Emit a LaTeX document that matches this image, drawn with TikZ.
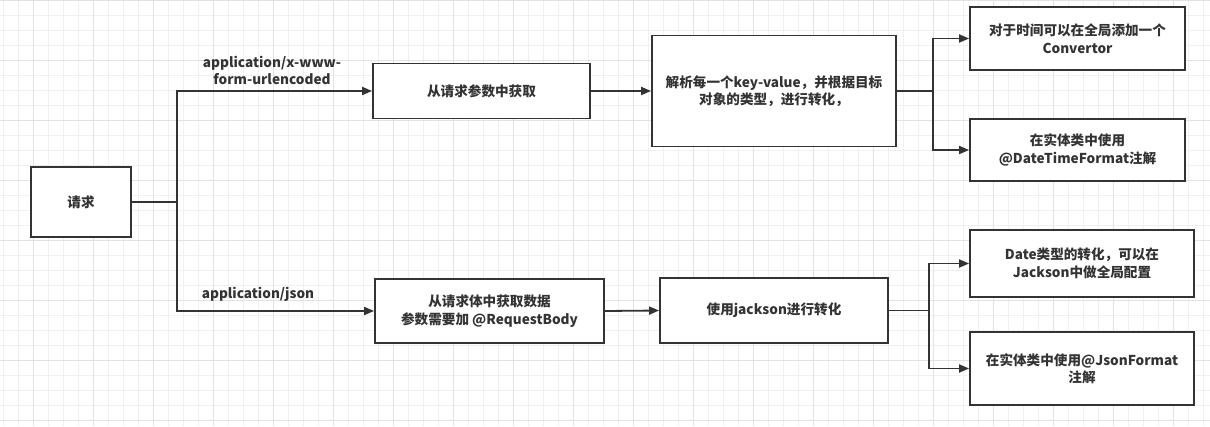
\documentclass[tikz,border=0pt]{standalone}
\usepackage{fontspec}
\setmainfont{Noto Sans CJK SC}
\usetikzlibrary{arrows.meta}
\definecolor{ink}{HTML}{333333}
\definecolor{gridminor}{HTML}{F0F0F0}
\definecolor{gridmajor}{HTML}{E2E2E2}
\begin{document}
\begin{tikzpicture}[x=1pt,y=-1pt,
  box/.style={draw=ink,line width=1.8pt,fill=white,inner sep=0pt,align=center,
    font=\fontsize{13.6}{17.5}\selectfont\bfseries,text=ink},
  lbl/.style={align=center,font=\fontsize{13.6}{17}\selectfont\bfseries,text=ink,inner sep=0pt},
  conn/.style={draw=ink,line width=1.8pt},
  arr/.style={conn,-{Triangle[length=10pt,width=8pt]}}]
\useasboundingbox (0,0) rectangle (1210,426);
\fill[white] (0,0) rectangle (1210,426);
% grid
\foreach \x in {3.3,18.3,...,1210} \draw[gridminor,line width=0.8pt] (\x,0) -- (\x,426);
\foreach \y in {0,15,...,426} \draw[gridminor,line width=0.8pt] (0,\y) -- (1210,\y);
\foreach \x in {33.3,93.3,...,1210} \draw[gridmajor,line width=0.8pt] (\x,0) -- (\x,426);
\foreach \y in {0,60,...,426} \draw[gridmajor,line width=0.8pt] (0,\y) -- (1210,\y);
% nodes
\node[box,minimum width=100pt,minimum height=70pt] (req) at (81,202) {请求};
\node[box,minimum width=217pt,minimum height=55pt] (A) at (481.5,91) {从请求参数中获取};
\node[box,minimum width=244pt,minimum height=111pt] (B) at (774,91) {解析每一个key-value，并根据目标\\对象的类型，进行转化，};
\node[box,minimum width=215pt,minimum height=63pt] (C) at (1077.5,38.5) {对于时间可以在全局添加一个\\Convertor};
\node[box,minimum width=215pt,minimum height=62pt] (D) at (1077.5,150) {在实体类中使用\\@DateTimeFormat注解};
\node[box,minimum width=229pt,minimum height=64pt] (E) at (489.5,311) {从请求体中获取数据\\参数需要加 @RequestBody};
\node[box,minimum width=228pt,minimum height=65pt] (F) at (774,310.5) {使用jackson进行转化};
\node[box,minimum width=224pt,minimum height=67pt] (G) at (1082,263.5) {Date类型的转化，可以在\\Jackson中做全局配置};
\node[box,minimum width=224pt,minimum height=73pt] (H) at (1082,368.5) {在实体类中使用@JsonFormat\\注解};
% junctions
\coordinate (j0) at (177,202);
\coordinate (j1) at (933,91);
\coordinate (j2) at (929,310.5);
% connectors
\draw[conn] (req.east) -- (j0);
\draw[arr] (j0) |- (A.west);
\draw[arr] (j0) |- (E.west);
\draw[arr] (A.east) -- (B.west);
\draw[conn] (B.east) -- (j1);
\draw[arr] (j1) |- (C.west);
\draw[arr] (j1) |- (D.west);
\draw[arr] (E.east) -- (F.west);
\draw[conn] (F.east) -- (j2);
\draw[arr] (j2) |- (G.west);
\draw[arr] (j2) |- (H.west);
% labels
\node[lbl] (l1) at (272,70.5) {application/x-www-\\form-urlencoded};
\node[lbl] (l2) at (258,294) {application/json};
\end{tikzpicture}
\end{document}
